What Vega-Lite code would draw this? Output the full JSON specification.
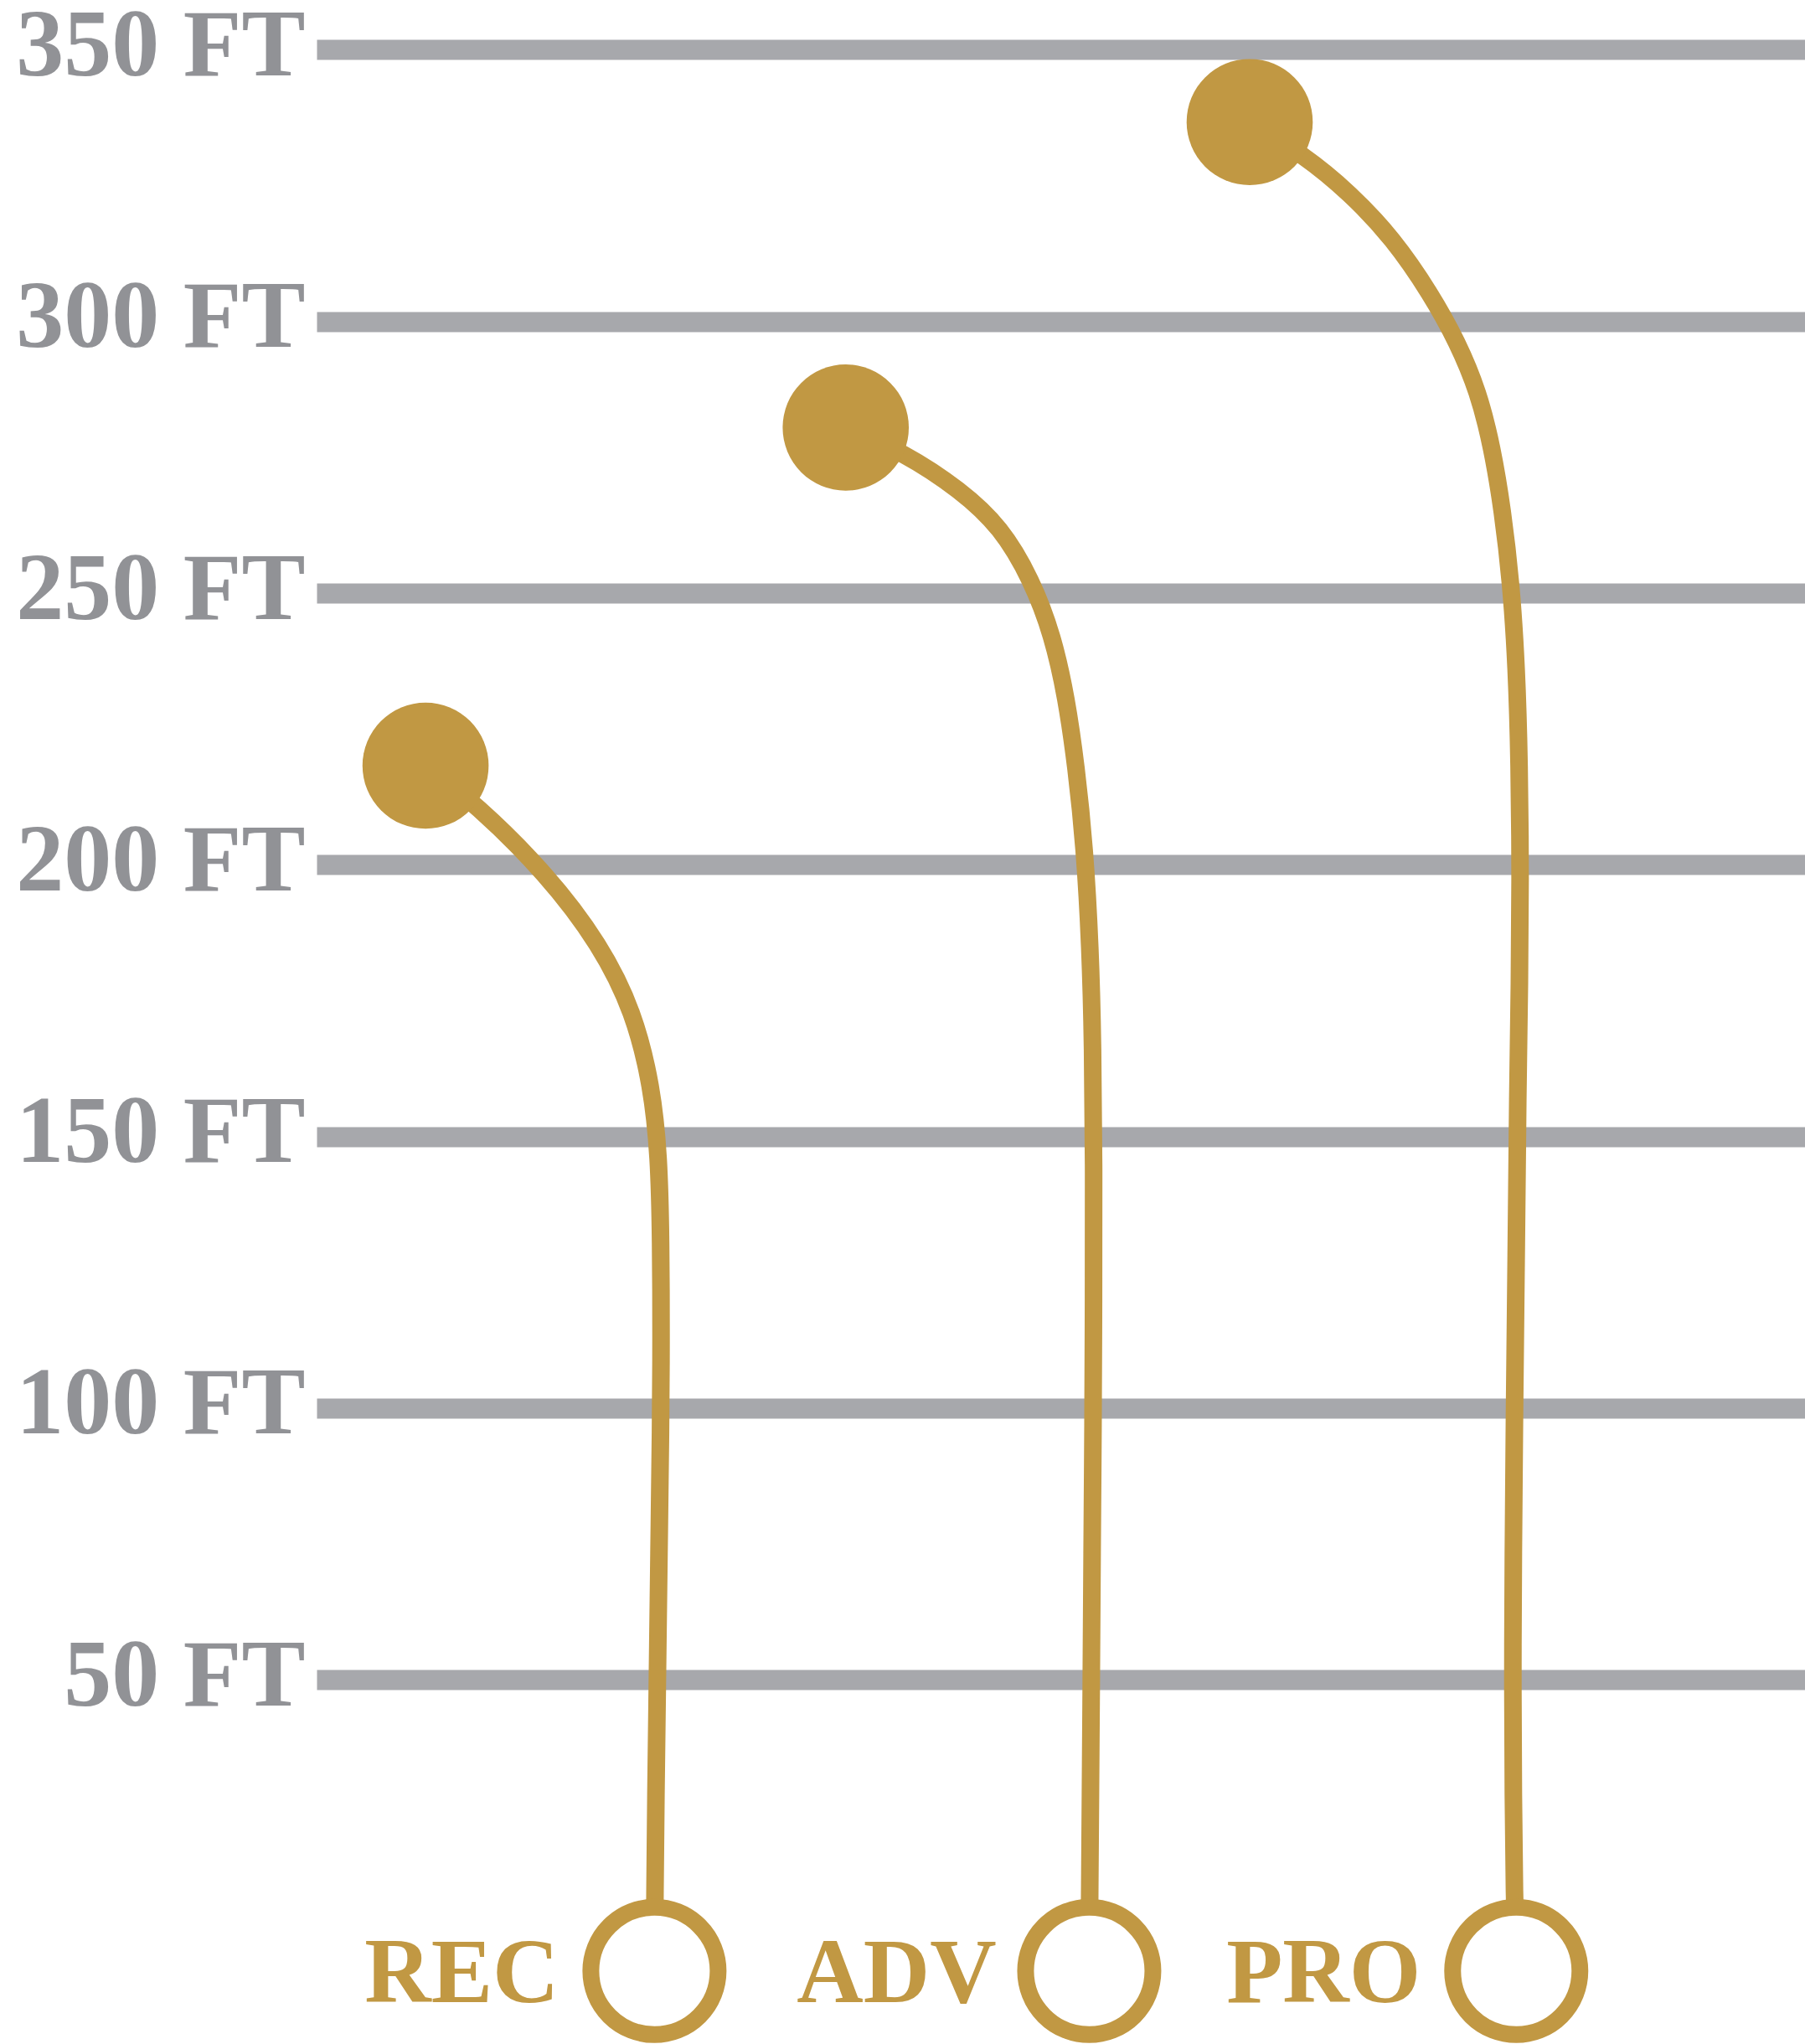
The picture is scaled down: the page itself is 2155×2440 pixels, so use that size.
{
  "$schema": "https://vega.github.io/schema/vega-lite/v6.json",
  "autosize": {"type": "none"},
  "padding": {"left": 378, "top": 0, "right": 0, "bottom": 0},
  "width": 1777,
  "height": 2440,
  "background": "white",
  "config": {"view": {"stroke": null}},
  "datasets": {
    "paths": [
      {"level": "REC", "seq": 1, "x": 7.32, "ft": 218.25},
      {"level": "REC", "seq": 2, "x": 10.68, "ft": 211.25},
      {"level": "REC", "seq": 3, "x": 15.49, "ft": 198.24},
      {"level": "REC", "seq": 4, "x": 19.06, "ft": 185.31},
      {"level": "REC", "seq": 5, "x": 21.31, "ft": 172.93},
      {"level": "REC", "seq": 6, "x": 22.53, "ft": 159.16},
      {"level": "REC", "seq": 7, "x": 23.0, "ft": 146.42},
      {"level": "REC", "seq": 8, "x": 23.13, "ft": 130.93},
      {"level": "REC", "seq": 9, "x": 23.15, "ft": 112.49},
      {"level": "REC", "seq": 10, "x": 23.12, "ft": 97.07},
      {"level": "REC", "seq": 11, "x": 23.0, "ft": 73.0},
      {"level": "REC", "seq": 12, "x": 22.9, "ft": 50.82},
      {"level": "REC", "seq": 13, "x": 22.79, "ft": 28.0},
      {"level": "REC", "seq": 14, "x": 22.73, "ft": 10.73},
      {"level": "REC", "seq": 15, "x": 22.7, "ft": -3.58},
      {"level": "ADV", "seq": 1, "x": 35.55, "ft": 280.48},
      {"level": "ADV", "seq": 2, "x": 39.47, "ft": 275.89},
      {"level": "ADV", "seq": 3, "x": 43.26, "ft": 268.98},
      {"level": "ADV", "seq": 4, "x": 45.98, "ft": 262.16},
      {"level": "ADV", "seq": 5, "x": 48.04, "ft": 252.44},
      {"level": "ADV", "seq": 6, "x": 49.45, "ft": 242.26},
      {"level": "ADV", "seq": 7, "x": 50.38, "ft": 230.74},
      {"level": "ADV", "seq": 8, "x": 51.04, "ft": 217.92},
      {"level": "ADV", "seq": 9, "x": 51.6, "ft": 203.31},
      {"level": "ADV", "seq": 10, "x": 51.98, "ft": 184.72},
      {"level": "ADV", "seq": 11, "x": 52.15, "ft": 167.02},
      {"level": "ADV", "seq": 12, "x": 52.22, "ft": 143.31},
      {"level": "ADV", "seq": 13, "x": 52.2, "ft": 120.0},
      {"level": "ADV", "seq": 14, "x": 52.17, "ft": 97.07},
      {"level": "ADV", "seq": 15, "x": 52.1, "ft": 73.0},
      {"level": "ADV", "seq": 16, "x": 52.05, "ft": 50.82},
      {"level": "ADV", "seq": 17, "x": 51.99, "ft": 28.0},
      {"level": "ADV", "seq": 18, "x": 51.94, "ft": 10.73},
      {"level": "ADV", "seq": 19, "x": 51.91, "ft": -3.58},
      {"level": "PRO", "seq": 1, "x": 62.69, "ft": 336.71},
      {"level": "PRO", "seq": 2, "x": 66.29, "ft": 330.74},
      {"level": "PRO", "seq": 3, "x": 69.43, "ft": 323.65},
      {"level": "PRO", "seq": 4, "x": 72.33, "ft": 315.25},
      {"level": "PRO", "seq": 5, "x": 74.86, "ft": 305.07},
      {"level": "PRO", "seq": 6, "x": 76.65, "ft": 296.22},
      {"level": "PRO", "seq": 7, "x": 78.05, "ft": 287.1},
      {"level": "PRO", "seq": 8, "x": 78.99, "ft": 276.75},
      {"level": "PRO", "seq": 9, "x": 79.68, "ft": 265.25},
      {"level": "PRO", "seq": 10, "x": 80.25, "ft": 251.96},
      {"level": "PRO", "seq": 11, "x": 80.62, "ft": 236.48},
      {"level": "PRO", "seq": 12, "x": 80.81, "ft": 218.78},
      {"level": "PRO", "seq": 13, "x": 80.88, "ft": 197.27},
      {"level": "PRO", "seq": 14, "x": 80.82, "ft": 178.0},
      {"level": "PRO", "seq": 15, "x": 80.7, "ft": 158.74},
      {"level": "PRO", "seq": 16, "x": 80.6, "ft": 128.0},
      {"level": "PRO", "seq": 17, "x": 80.47, "ft": 97.07},
      {"level": "PRO", "seq": 18, "x": 80.4, "ft": 73.0},
      {"level": "PRO", "seq": 19, "x": 80.36, "ft": 50.82},
      {"level": "PRO", "seq": 20, "x": 80.4, "ft": 28.0},
      {"level": "PRO", "seq": 21, "x": 80.47, "ft": 10.73},
      {"level": "PRO", "seq": 22, "x": 80.6, "ft": -3.58}
    ],
    "tops": [
      {"level": "REC", "x": 7.32, "ft": 218.25},
      {"level": "ADV", "x": 35.55, "ft": 280.48},
      {"level": "PRO", "x": 62.69, "ft": 336.71}
    ],
    "bottoms": [
      {"level": "REC", "x": 22.7, "ft": -3.58},
      {"level": "ADV", "x": 51.91, "ft": -3.58},
      {"level": "PRO", "x": 80.6, "ft": -3.58}
    ]
  },
  "encoding": {
    "x": {"field": "x", "type": "quantitative", "scale": {"domain": [0, 100], "nice": false, "zero": false}, "axis": null},
    "y": {
      "field": "ft", "type": "quantitative",
      "scale": {"domain": [-17.02, 359.17], "nice": false, "zero": false},
      "axis": {
        "values": [50, 100, 150, 200, 250, 300, 350],
        "title": null,
        "domain": false,
        "ticks": false,
        "tickSize": 0,
        "grid": true,
        "gridColor": "#a7a8ac",
        "gridWidth": 24,
        "gridOpacity": 1,
        "labelExpr": "datum.value + ' FT'",
        "labelFont": "Liberation Serif",
        "labelFontWeight": "bold",
        "labelFontSize": 114,
        "labelColor": "#919296",
        "labelAlign": "right",
        "labelBaseline": "alphabetic",
        "labelOffset": 30,
        "labelPadding": 14,
        "labelLimit": 0,
        "labelOverlap": false,
        "labelFlush": false
      }
    }
  },
  "layer": [
    {
      "data": {"name": "paths"},
      "mark": {"type": "line", "interpolate": "basis", "stroke": "#c19843", "strokeWidth": 21, "strokeCap": "round"},
      "encoding": {
        "detail": {"field": "level", "type": "nominal"},
        "order": {"field": "seq", "type": "quantitative"}
      }
    },
    {
      "data": {"name": "tops"},
      "mark": {"type": "point", "shape": "circle", "filled": true, "fill": "#c19843", "fillOpacity": 1, "strokeWidth": 0, "size": 22680}
    },
    {
      "data": {"name": "bottoms"},
      "mark": {"type": "point", "shape": "circle", "filled": false, "fill": "white", "fillOpacity": 1, "stroke": "#c19843", "strokeOpacity": 1, "strokeWidth": 20, "size": 23104}
    },
    {
      "data": {"name": "bottoms"},
      "mark": {"type": "text", "align": "center", "baseline": "alphabetic", "dx": -230, "dy": 37, "font": "Liberation Serif", "fontWeight": "bold", "fontSize": 110, "fill": "#c19843"},
      "encoding": {"text": {"field": "level", "type": "nominal"}}
    }
  ]
}
